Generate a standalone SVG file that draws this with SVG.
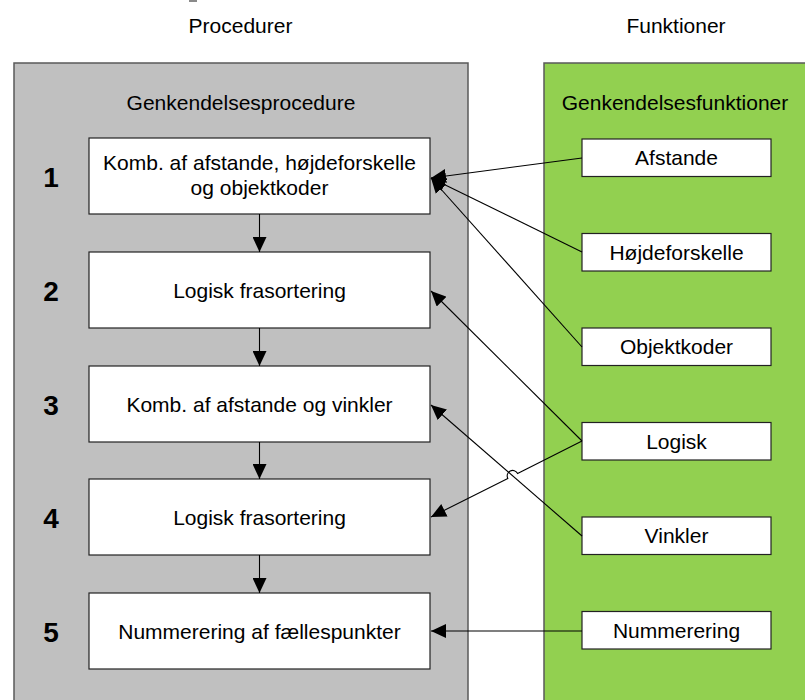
<svg xmlns="http://www.w3.org/2000/svg" width="805" height="700" viewBox="0 0 805 700">
  <defs>
    <style>
      .lbl { font-family: "Liberation Sans", Arial, sans-serif; font-size: 21px; fill: #000; text-anchor: middle; }
      .num { font-family: "Liberation Sans", Arial, sans-serif; font-size: 28px; font-weight: bold; fill: #000; text-anchor: middle; }
      .panel-gray { fill: #c0c0c0; stroke: #5a5a5a; stroke-width: 1.5; }
      .panel-green { fill: #92d050; stroke: #5a5a5a; stroke-width: 1.5; }
      .box { fill: #ffffff; stroke: #222; stroke-width: 1.2; }
      .conn { fill: none; stroke: #000; stroke-width: 1.1; marker-end: url(#arrow); }
    </style>
    <marker id="arrow" markerUnits="userSpaceOnUse" markerWidth="16" markerHeight="14" refX="15" refY="7" orient="auto">
      <path d="M0,0 L15,7 L0,14 z" fill="#000"/>
    </marker>
  </defs>

  <rect width="805" height="700" fill="#ffffff"/>
  <rect x="189" y="0" width="8" height="2" fill="#8a8a8a"/>

  <!-- column headings -->
  <text class="lbl" x="240.5" y="33">Procedurer</text>
  <text class="lbl" x="676" y="33">Funktioner</text>

  <!-- panels -->
  <g id="panel-procedure">
    <rect class="panel-gray" x="14" y="63" width="454" height="660"/>
    <text class="lbl" x="241" y="110">Genkendelsesprocedure</text>
  </g>
  <g id="panel-functions">
    <rect class="panel-green" x="544" y="63" width="280" height="660"/>
    <text class="lbl" x="675" y="110">Genkendelsesfunktioner</text>
  </g>

  <!-- procedure steps -->
  <g id="step1">
    <text class="num" x="51" y="187">1</text>
    <rect class="box" x="89" y="138" width="341" height="76"/>
    <text class="lbl" x="259.5" y="170">Komb. af afstande, højdeforskelle</text>
    <text class="lbl" x="259.5" y="195">og objektkoder</text>
  </g>
  <g id="step2">
    <text class="num" x="51" y="301">2</text>
    <rect class="box" x="89" y="252" width="341" height="76"/>
    <text class="lbl" x="259.5" y="297.5">Logisk frasortering</text>
  </g>
  <g id="step3">
    <text class="num" x="51" y="415">3</text>
    <rect class="box" x="89" y="366" width="341" height="76"/>
    <text class="lbl" x="259.5" y="411.5">Komb. af afstande og vinkler</text>
  </g>
  <g id="step4">
    <text class="num" x="51" y="528">4</text>
    <rect class="box" x="89" y="479" width="341" height="76"/>
    <text class="lbl" x="259.5" y="524.5">Logisk frasortering</text>
  </g>
  <g id="step5">
    <text class="num" x="51" y="642">5</text>
    <rect class="box" x="89" y="593" width="341" height="76"/>
    <text class="lbl" x="259.5" y="638.5">Nummerering af fællespunkter</text>
  </g>

  <!-- functions -->
  <g id="fn-afstande">
    <rect class="box" x="582" y="139" width="189" height="37.5"/>
    <text class="lbl" x="676.5" y="165">Afstande</text>
  </g>
  <g id="fn-hojdeforskelle">
    <rect class="box" x="582" y="233.5" width="189" height="37.5"/>
    <text class="lbl" x="676.5" y="259.5">Højdeforskelle</text>
  </g>
  <g id="fn-objektkoder">
    <rect class="box" x="582" y="328" width="189" height="37.5"/>
    <text class="lbl" x="676.5" y="354">Objektkoder</text>
  </g>
  <g id="fn-logisk">
    <rect class="box" x="582" y="422.5" width="189" height="37.5"/>
    <text class="lbl" x="676.5" y="448.5">Logisk</text>
  </g>
  <g id="fn-vinkler">
    <rect class="box" x="582" y="517" width="189" height="37.5"/>
    <text class="lbl" x="676.5" y="543">Vinkler</text>
  </g>
  <g id="fn-nummerering">
    <rect class="box" x="582" y="611.5" width="189" height="37.5"/>
    <text class="lbl" x="676.5" y="637.5">Nummerering</text>
  </g>

  <!-- connectors -->
  <g id="connectors">
    <path class="conn" d="M259.5,214 L259.5,252"/>
    <path class="conn" d="M259.5,328 L259.5,366"/>
    <path class="conn" d="M259.5,442 L259.5,479"/>
    <path class="conn" d="M259.5,555 L259.5,593"/>
    <path class="conn" d="M582,158 L431,178"/>
    <path class="conn" d="M582,252 L431,178"/>
    <path class="conn" d="M582,347 L431,178"/>
    <path class="conn" d="M582,441 L431,291"/>
    <path class="conn" d="M582,536 L431,405"/>
    <path class="conn" d="M582,441 L517.6,473.4 A5.5,5.5 0 0 0 507.8,478.4 L431,517"/>
    <path class="conn" d="M582,631 L431,631"/>
  </g>
</svg>
